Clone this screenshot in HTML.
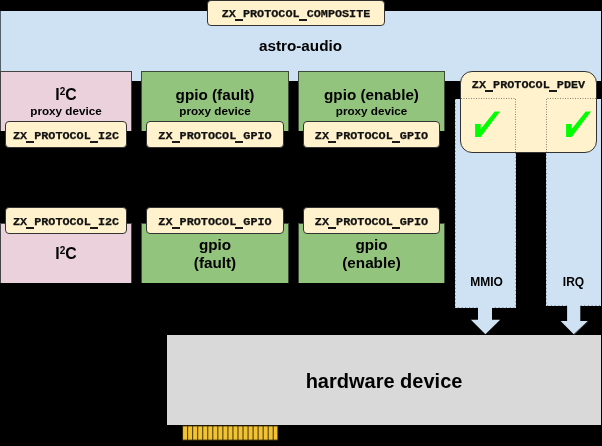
<!DOCTYPE html>
<html><head><meta charset="utf-8">
<style>
html,body{margin:0;padding:0;}
body{width:602px;height:446px;background:#000;position:relative;overflow:hidden;font-family:"Liberation Sans",sans-serif;}
.a{position:absolute;box-sizing:border-box;}
.blue{background:#cfe2f3;}
.pink{background:#ead1dc;border:1px solid #444;border-bottom:none;}
.green{background:#93c47d;border:1px solid #3d4a37;border-bottom:none;}
.lbl{background:#fff2cc;border:1px solid #333;border-radius:4px;}
.t{position:absolute;font-weight:bold;color:#000;white-space:nowrap;text-align:center;will-change:transform;}
.u{position:relative;color:transparent;-webkit-text-stroke-color:transparent;}
.u::after{content:'';position:absolute;left:-1px;right:0;bottom:0.1px;height:1.7px;background:#1a1a1a;}
.m{font-family:"Liberation Mono",monospace;font-size:11.8px;line-height:14px;color:#111;-webkit-text-stroke:0.25px #111;}
.s{font-size:15.25px;line-height:18px;}
.p{font-size:11.7px;line-height:14px;}
sup{font-size:10px;vertical-align:0;position:relative;top:-5.5px;line-height:0;}
</style></head><body>
<div class="a blue" style="left:0;top:11px;width:601px;height:70px;border-left:1px solid #52606b;"></div>
<div class="t s" style="left:0;width:601px;top:37px;">astro-audio</div>

<div class="a blue" style="left:455px;top:99px;width:61px;height:209px;"></div>
<div class="a blue" style="left:546px;top:99px;width:55px;height:207px;"></div>
<svg class="a" style="left:0;top:0" width="602" height="446">
<path d="M455.5 99V307.5H515.5V99 M546.5 99V305.5H601" fill="none" stroke="rgba(0,0,0,0.38)" stroke-width="1" stroke-dasharray="1,2.7"/>
<polygon fill="#cfe2f3" points="478,307 492,307 492,319.7 500.2,319.7 485.4,334.2 470.9,319.7 478,319.7"/>
<polygon fill="#cfe2f3" points="567.1,305 580.3,305 580.3,321 587.8,321 573.7,334.2 560.6,321 567.1,321"/>
<line x1="588.2" y1="321.2" x2="574.2" y2="334.8" stroke="#4a4a4a" stroke-width="0.8"/>
</svg>
<div class="t p" style="left:455px;width:63px;top:275px;font-size:12px;">MMIO</div>
<div class="t p" style="left:546px;width:55px;top:275px;font-size:12px;">IRQ</div>

<div class="a pink" style="left:0;top:71px;width:132px;height:60px;"></div>
<div class="a green" style="left:141px;top:71px;width:148px;height:60px;"></div>
<div class="a green" style="left:298px;top:71px;width:147px;height:60px;"></div>
<div class="t s" style="left:0;width:132px;top:85.5px;font-size:15.8px;">I<sup>2</sup>C</div>
<div class="t p" style="left:0;width:132px;top:104px;">proxy device</div>
<div class="t s" style="left:141px;width:148px;top:86px;">gpio (fault)</div>
<div class="t p" style="left:141px;width:148px;top:104px;">proxy device</div>
<div class="t s" style="left:298px;width:147px;top:86px;">gpio (enable)</div>
<div class="t p" style="left:298px;width:147px;top:104px;">proxy device</div>

<div class="a lbl" style="left:5px;top:121px;width:122px;height:27px;"></div>
<div class="t m" style="left:5px;width:122px;top:129px;">ZX<span class="u">_</span>PROTOCOL<span class="u">_</span>I2C</div>
<div class="a lbl" style="left:146px;top:121px;width:138px;height:27px;"></div>
<div class="t m" style="left:146px;width:138px;top:129px;">ZX<span class="u">_</span>PROTOCOL<span class="u">_</span>GPIO</div>
<div class="a lbl" style="left:303px;top:121px;width:137px;height:27px;"></div>
<div class="t m" style="left:303px;width:137px;top:129px;">ZX<span class="u">_</span>PROTOCOL<span class="u">_</span>GPIO</div>

<div class="a lbl" style="left:207px;top:0;width:178px;height:26px;"></div>
<div class="t m" style="left:207px;width:178px;top:7px;">ZX<span class="u">_</span>PROTOCOL<span class="u">_</span>COMPOSITE</div>

<div class="a lbl" style="left:460px;top:71px;width:137px;height:82px;border-radius:12px;"></div>
<div class="t m" style="left:460px;width:137px;top:78px;">ZX<span class="u">_</span>PROTOCOL<span class="u">_</span>PDEV</div>
<svg class="a" style="left:0;top:0" width="602" height="446">
<path d="M461 98.5H515.5V152 M596 98.5H546.5V152" fill="none" stroke="#8a8474" stroke-width="1" stroke-dasharray="1,1.5"/>
<polygon fill="#00ff00" points="475.1,124.1 480.7,124.1 480.7,129.1 494.7,111.5 500,111.5 480.7,137 475.1,137"/>
<polygon fill="#00ff00" points="566.1,124.1 571.7,124.1 571.7,129.1 585.7,111.5 591,111.5 571.7,137 566.1,137"/>
</svg>

<div class="a pink" style="left:0;top:223px;width:132px;height:60px;"></div>
<div class="a green" style="left:141px;top:223px;width:148px;height:60px;"></div>
<div class="a green" style="left:298px;top:223px;width:147px;height:60px;"></div>
<div class="t s" style="left:0;width:132px;top:244.5px;font-size:15.8px;">I<sup>2</sup>C</div>
<div class="t s" style="left:141px;width:148px;top:236.4px;line-height:17.5px;">gpio<br>(fault)</div>
<div class="t s" style="left:298px;width:147px;top:236.4px;line-height:17.5px;">gpio<br>(enable)</div>

<div class="a lbl" style="left:5px;top:207px;width:122px;height:27px;"></div>
<div class="t m" style="left:5px;width:122px;top:215px;">ZX<span class="u">_</span>PROTOCOL<span class="u">_</span>I2C</div>
<div class="a lbl" style="left:146px;top:207px;width:138px;height:27px;"></div>
<div class="t m" style="left:146px;width:138px;top:215px;">ZX<span class="u">_</span>PROTOCOL<span class="u">_</span>GPIO</div>
<div class="a lbl" style="left:303px;top:207px;width:137px;height:27px;"></div>
<div class="t m" style="left:303px;width:137px;top:215px;">ZX<span class="u">_</span>PROTOCOL<span class="u">_</span>GPIO</div>

<div class="a" style="left:167px;top:335px;width:434px;height:90px;background:#d9d9d9;"></div>
<div class="t" style="left:167px;width:434px;top:368.5px;font-size:20px;line-height:24px;">hardware device</div>
<svg class="a" style="left:0;top:0" width="602" height="446">
<rect x="182.6" y="425.9" width="95.3" height="14.2" fill="#f1c232" stroke="#2a2208" stroke-width="0.9"/><line x1="187.63" y1="426" x2="187.63" y2="440" stroke="#2a2208" stroke-width="0.9"/><line x1="192.67" y1="426" x2="192.67" y2="440" stroke="#2a2208" stroke-width="0.9"/><line x1="197.70" y1="426" x2="197.70" y2="440" stroke="#2a2208" stroke-width="0.9"/><line x1="202.74" y1="426" x2="202.74" y2="440" stroke="#2a2208" stroke-width="0.9"/><line x1="207.78" y1="426" x2="207.78" y2="440" stroke="#2a2208" stroke-width="0.9"/><line x1="212.81" y1="426" x2="212.81" y2="440" stroke="#2a2208" stroke-width="0.9"/><line x1="217.84" y1="426" x2="217.84" y2="440" stroke="#2a2208" stroke-width="0.9"/><line x1="222.88" y1="426" x2="222.88" y2="440" stroke="#2a2208" stroke-width="0.9"/><line x1="227.91" y1="426" x2="227.91" y2="440" stroke="#2a2208" stroke-width="0.9"/><line x1="232.95" y1="426" x2="232.95" y2="440" stroke="#2a2208" stroke-width="0.9"/><line x1="237.99" y1="426" x2="237.99" y2="440" stroke="#2a2208" stroke-width="0.9"/><line x1="243.02" y1="426" x2="243.02" y2="440" stroke="#2a2208" stroke-width="0.9"/><line x1="248.06" y1="426" x2="248.06" y2="440" stroke="#2a2208" stroke-width="0.9"/><line x1="253.09" y1="426" x2="253.09" y2="440" stroke="#2a2208" stroke-width="0.9"/><line x1="258.12" y1="426" x2="258.12" y2="440" stroke="#2a2208" stroke-width="0.9"/><line x1="263.16" y1="426" x2="263.16" y2="440" stroke="#2a2208" stroke-width="0.9"/><line x1="268.19" y1="426" x2="268.19" y2="440" stroke="#2a2208" stroke-width="0.9"/><line x1="273.23" y1="426" x2="273.23" y2="440" stroke="#2a2208" stroke-width="0.9"/>
</svg>
</body></html>
